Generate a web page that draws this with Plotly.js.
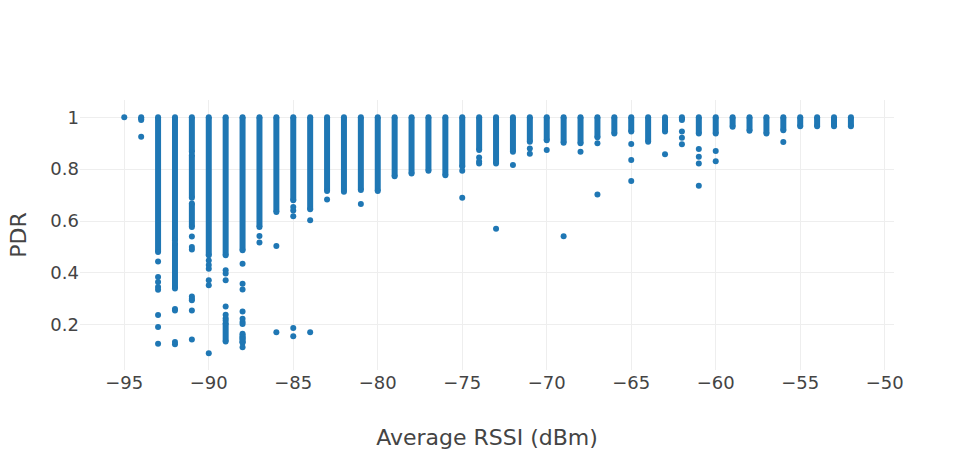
<!DOCTYPE html>
<html>
<head>
<meta charset="utf-8">
<script src="https://cdn.plot.ly/plotly-3.0.1.min.js"></script>
<style>html,body{margin:0;padding:0;background:#fff;}#chart{width:974px;height:450px;}</style>
</head>
<body>
<div id="chart"></div>
<script>
// Dense runs of points per RSSI column: x, top PDR, bottom PDR
var segX =   [-94, -93, -92, -92, -91, -91, -91, -90, -89, -89, -88, -88, -87, -86, -85, -84, -83, -82, -81, -80, -79, -78, -77, -76, -75, -74, -73, -72, -71, -70, -69, -68, -67, -66, -65, -64, -63, -62, -61, -60, -59, -58, -57, -56, -55, -54, -53, -52];
var segTop = [1.0, 1.0, 1.0, 0.515, 1.0, 0.855, 0.668, 1.0, 1.0, 0.205, 1.0, 0.165, 1.0, 1.0, 1.0, 1.0, 1.0, 1.0, 1.0, 1.0, 1.0, 1.0, 1.0, 1.0, 1.0, 1.0, 1.0, 1.0, 1.0, 1.0, 1.0, 1.0, 1.0, 1.0, 1.0, 1.0, 1.0, 1.0, 1.0, 1.0, 1.0, 1.0, 1.0, 1.0, 1.0, 1.0, 1.0, 1.0];
var segBot = [0.99, 0.48, 0.525, 0.34, 0.866, 0.69, 0.577, 0.468, 0.468, 0.135, 0.487, 0.13, 0.577, 0.635, 0.68, 0.645, 0.716, 0.713, 0.72, 0.716, 0.773, 0.783, 0.794, 0.777, 0.81, 0.874, 0.822, 0.867, 0.906, 0.912, 0.902, 0.9, 0.923, 0.938, 0.945, 0.906, 0.945, 0.99, 0.938, 0.938, 0.964, 0.948, 0.938, 0.95, 0.966, 0.966, 0.966, 0.966];

// Isolated points
var outX = [-95, -94,
  -93, -93, -93, -93, -93, -93, -93, -93,
  -92, -92, -92, -92,
  -91, -91, -91, -91, -91, -91, -91, -91,
  -90, -90, -90, -90, -90, -90,
  -89, -89, -89, -89, -89, -89, -89,
  -88, -88, -88, -88, -88, -88, -88, -88, -88, -88, -88,
  -87, -87,
  -86, -86,
  -85, -85, -85, -85, -85,
  -84, -84,
  -83, -81, -75, -75, -74, -74, -74, -73, -72, -71, -71, -70, -69, -68, -67, -67,
  -65, -65, -65, -63, -62, -62, -62, -61, -61, -61, -61, -60, -60, -56];
var outY = [1.0, 0.925,
  0.444, 0.384, 0.365, 0.345, 0.335, 0.237, 0.191, 0.126,
  0.26, 0.255, 0.133, 0.124,
  0.54, 0.5, 0.49, 0.309, 0.3, 0.294, 0.255, 0.143,
  0.448, 0.43, 0.416, 0.371, 0.352, 0.09,
  0.41, 0.397, 0.371, 0.27, 0.238, 0.225, 0.216,
  0.435, 0.358, 0.336, 0.251, 0.223, 0.21, 0.203, 0.152, 0.145, 0.133, 0.113,
  0.542, 0.517,
  0.504, 0.171,
  0.654, 0.641, 0.618, 0.187, 0.155,
  0.603, 0.171,
  0.683, 0.666, 0.794, 0.69, 0.845, 0.83, 0.822, 0.57, 0.816, 0.88, 0.86, 0.874, 0.541, 0.867, 0.9, 0.702,
  0.897, 0.835, 0.754, 0.858, 0.945, 0.921, 0.896, 0.878, 0.848, 0.822, 0.736, 0.87, 0.831, 0.905];

var xTicks = [-95, -90, -85, -80, -75, -70, -65, -60, -55, -50];
var yTicks = [0.2, 0.4, 0.6, 0.8, 1];

var color = '#1f77b4';
var sx = [], sy = [];
for (var i = 0; i < segX.length; i++) {
  sx.push(segX[i], segX[i], null);
  sy.push(segTop[i], segBot[i], null);
}

var traces = [
  {type: 'scatter', mode: 'lines+markers', x: sx, y: sy, connectgaps: false,
   line: {color: color, width: 6}, marker: {color: color, size: 6}, hoverinfo: 'skip'},
  {type: 'scatter', mode: 'markers', x: outX, y: outY,
   marker: {color: color, size: 6}}
];

var layout = {
  width: 974, height: 450,
  margin: {l: 80, r: 80, t: 100, b: 80},
  showlegend: false,
  paper_bgcolor: '#fff', plot_bgcolor: '#fff',
  font: {family: '"DejaVu Sans", Verdana, sans-serif', size: 18, color: '#444'},
  xaxis: {
    title: {text: 'Average RSSI (dBm)', font: {size: 22}},
    range: [-97.62, -49.45], tickvals: xTicks, ticktext: xTicks.map(function(v){return '\u2212' + Math.abs(v);}),
    showgrid: true, gridcolor: '#eee', zeroline: false, showline: false
  },
  yaxis: {
    title: {text: 'PDR', font: {size: 22}},
    range: [0.025, 1.067], tickvals: yTicks, ticktext: yTicks.map(String),
    showgrid: true, gridcolor: '#eee', zeroline: false, showline: false
  }
};

Plotly.newPlot('chart', traces, layout, {displayModeBar: false, staticPlot: true});
</script>
</body>
</html>
